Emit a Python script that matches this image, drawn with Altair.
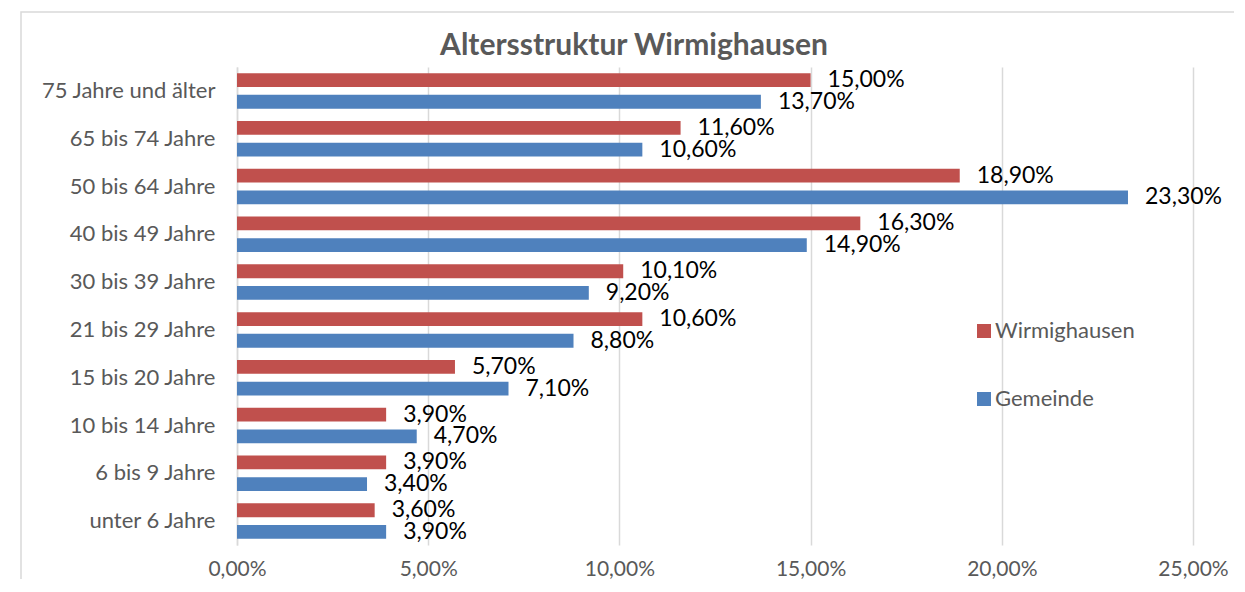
import altair as alt
import pandas as pd

categories = ["75 Jahre und älter", "65 bis 74 Jahre", "50 bis 64 Jahre", "40 bis 49 Jahre",
              "30 bis 39 Jahre", "21 bis 29 Jahre", "15 bis 20 Jahre", "10 bis 14 Jahre",
              "6 bis 9 Jahre", "unter 6 Jahre"]
wirmighausen = [15.0, 11.6, 18.9, 16.3, 10.1, 10.6, 5.7, 3.9, 3.9, 3.6]
gemeinde = [13.7, 10.6, 23.3, 14.9, 9.2, 8.8, 7.1, 4.7, 3.4, 3.9]
series = ["Wirmighausen", "Gemeinde"]
colors = ["#C0504D", "#4F81BD"]
x_ticks = [0, 5, 10, 15, 20, 25]

rows = []
for c, w, g in zip(categories, wirmighausen, gemeinde):
    rows.append({"Altersgruppe": c, "Reihe": series[0], "Wert": w})
    rows.append({"Altersgruppe": c, "Reihe": series[1], "Wert": g})
df = pd.DataFrame(rows)

W, H = 956, 478
FONT = "Lato"
GREY = "#595959"
GRID = "#d9d9d9"

base = alt.Chart(df).encode(
    y=alt.Y("Altersgruppe:N", sort=categories,
            scale=alt.Scale(paddingInner=0.257, paddingOuter=0.1285),
            axis=alt.Axis(title=None, ticks=False, labelPadding=22, labelFontSize=22,
                          labelColor=GREY, labelFont=FONT, domainColor=GRID,
                          domainWidth=1.5, grid=False, labelLimit=400)),
    yOffset=alt.YOffset("Reihe:N", sort=series,
                        scale=alt.Scale(paddingInner=0.364, paddingOuter=0)),
)

bars = base.mark_bar().encode(
    x=alt.X("Wert:Q", scale=alt.Scale(domain=[0, 25], nice=False),
            axis=alt.Axis(values=x_ticks, title=None,
                          labelExpr="replace(format(datum.value/100, '.2%'), '.', ',')",
                          ticks=False, domain=False, gridColor=GRID, gridWidth=1.5,
                          labelFontSize=21, labelColor=GREY, labelPadding=13,
                          labelFont=FONT, labelFlush=False)),
    color=alt.Color("Reihe:N", sort=series,
                    scale=alt.Scale(domain=series, range=colors),
                    legend=alt.Legend(title=None, orient="none", legendX=736, legendY=253,
                                      symbolType="square", symbolSize=196,
                                      symbolStrokeWidth=0, labelFontSize=22,
                                      labelColor=GREY, labelFont=FONT, rowPadding=46,
                                      labelOffset=0, padding=0)),
)

labels = base.mark_text(align="left", baseline="middle", dx=17, fontSize=23,
                        color="black", font=FONT).encode(
    x=alt.X("Wert:Q"),
    text=alt.Text("label:N"),
).transform_calculate(
    label="replace(format(datum.Wert/100, '.2%'), '.', ',')"
)

border = alt.Chart(pd.DataFrame({"b": [0]})).mark_rect(
    filled=False, stroke=GRID, strokeWidth=1.5
).encode(
    x=alt.value(-216), x2=alt.value(W + 100),
    y=alt.value(-55), y2=alt.value(H + 100),
)

chart = alt.layer(border, bars, labels).properties(
    width=W, height=H,
    autosize=alt.AutoSizeParams(type="none"),
    padding={"left": 229, "top": 59, "right": 41, "bottom": 34},
    title=alt.Title("Altersstruktur Wirmighausen", fontSize=30, font=FONT,
                    fontWeight="bold", color=GREY, anchor="middle", dx=-81,
                    baseline="alphabetic", offset=-74, frame="group"),
).configure_view(stroke=None)

chart.save("out.html", embed_options={"renderer": "svg", "actions": False})
